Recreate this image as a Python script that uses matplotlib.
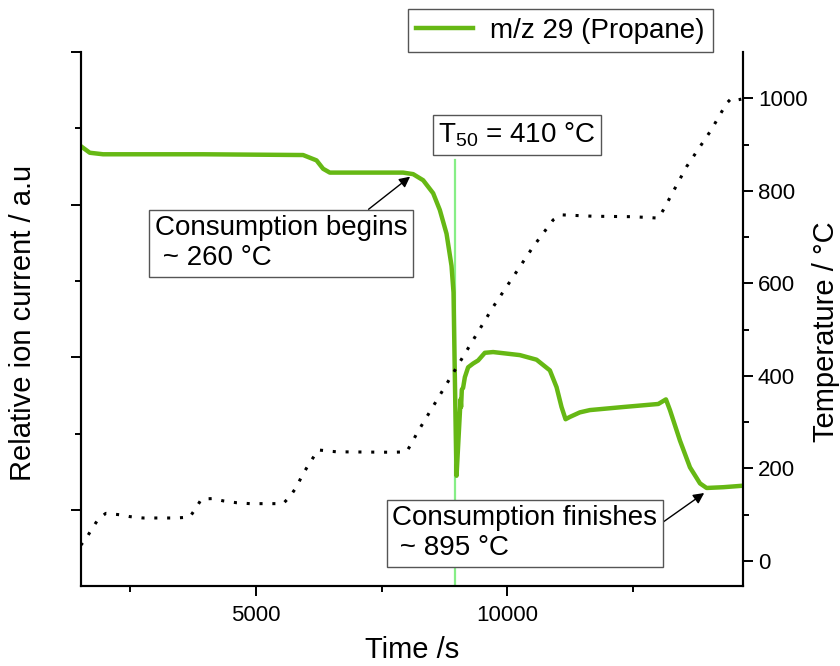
import matplotlib

matplotlib.use("Agg")
import matplotlib.pyplot as plt

# m/z 29 ion current (left axis, arbitrary units)
t_ms = [1535, 1700, 1964, 3952, 5940, 6207, 6338, 6471, 7266, 7928, 8127, 8326,
        8525, 8658, 8791, 8890, 8930, 8950, 8975, 8990, 9055, 9070, 9080, 9095,
        9120, 9155, 9220, 9320, 9419, 9552, 9717, 10248, 10580, 10845, 10978,
        11077, 11157, 11242, 11441, 11640, 12302, 13000, 13152, 13232, 13431,
        13630, 13829, 13960, 14290, 14690]
ion_ms = [5.76, 5.68, 5.66, 5.66, 5.65, 5.58, 5.47, 5.42, 5.42, 5.42, 5.40, 5.32,
          5.15, 4.93, 4.62, 4.20, 3.85, 3.00, 2.00, 1.45, 2.26, 2.45, 2.35, 2.58,
          2.60, 2.74, 2.87, 2.92, 2.96, 3.06, 3.07, 3.03, 2.97, 2.83, 2.61,
          2.35, 2.19, 2.22, 2.28, 2.31, 2.35, 2.39, 2.45, 2.31, 1.91,
          1.56, 1.35, 1.29, 1.30, 1.32]

# furnace temperature (right axis, °C)
t_temp = [1520, 1634, 1734, 1865, 2018, 2296, 2495, 2759, 3091, 3423, 3688, 3807,
          3920, 4151, 4350, 4616, 4881, 5543, 5676, 5809, 5908, 6020, 6173, 6239,
          6604, 7730, 7996, 8095, 8207, 9000, 9717, 10512, 10910, 11077, 11705,
          12500, 12997, 13097, 13562, 14049, 14357, 14457, 14556, 14650]
temp = [34, 50, 68, 90, 103, 100, 96, 93, 93, 93, 95, 114,
        134, 135, 130, 126, 124, 124, 139, 160, 182, 203, 229, 240,
        236, 235, 236, 254, 277, 420, 549, 679, 737, 748, 745,
        744, 741, 758, 852, 931, 989, 1000, 996, 998]

t50_time = 8960
GREEN = "#66b814"

plt.rcParams["font.family"] = ["Liberation Sans", "DejaVu Sans"]
plt.rcParams["mathtext.default"] = "regular"

fig = plt.figure(figsize=(8.4, 6.66), dpi=100)
ax = fig.add_axes([0.0961, 0.1194, 0.7888, 0.8026])
ax2 = ax.twinx()

ax.plot([t50_time, t50_time], [0, 5.585], color="#86ee86", lw=1.6, zorder=2)
ax.plot(t_ms, ion_ms, color=GREEN, lw=3.2, label="m/z 29 (Propane)", zorder=3,
        solid_joinstyle="round")
ax2.plot(t_temp, temp, color="black", lw=2.2, ls=(0, (1, 3.2)))

ax.set_xlim(1520, 14690)
ax.set_ylim(0, 7)
ax2.set_ylim(-55, 1100)
ax.set_xticks([5000, 10000])
ax.set_xticks([2500, 7500, 12500], minor=True)
ax.set_yticks([1, 3, 5, 7])
ax.set_yticks([2, 4, 6], minor=True)
ax.tick_params(labelleft=False)
ax2.set_yticks(range(0, 1001, 200))
ax2.set_yticks(range(100, 1001, 200), minor=True)

for a in (ax, ax2):
    a.spines["top"].set_visible(False)
    for s in ("left", "right", "bottom"):
        a.spines[s].set_linewidth(1.5)
    a.tick_params(which="major", length=7, width=1.4, direction="out", labelsize=16)
    a.tick_params(which="minor", length=4, width=1.4, direction="out")
ax.tick_params(axis="x", pad=6)

ax.set_xlabel("Time /s", fontsize=21)
ax.xaxis.set_label_coords(0.5, -0.093)
ax.set_ylabel("Relative ion current / a.u", fontsize=21)
ax.yaxis.set_label_coords(-0.066, 0.493)
ax2.set_ylabel("Temperature / °C", fontsize=21)
ax2.yaxis.set_label_coords(1.104, 0.476)

box = dict(boxstyle="square,pad=0.2", fc="white", ec="#555555", lw=1)
arrow = dict(arrowstyle="-|>", color="black", lw=1, mutation_scale=16,
             shrinkA=0, shrinkB=0)

ax.annotate("Consumption begins\n ~ 260 °C", xy=(8067, 5.367), xytext=(2997, 4.86),
            ha="left", va="top", fontsize=20, bbox=box,
            arrowprops=dict(arrow, relpos=(0.815, 1.0)), zorder=5)
ax.annotate("Consumption finishes\n ~ 895 °C", xy=(13912, 1.224), xytext=(7713, 1.061),
            ha="left", va="top", fontsize=20, bbox=box,
            arrowprops=dict(arrow, relpos=(1.0, 0.63)), zorder=5)
ax.text(8623, 6.10, "T$_{50}$ = 410 °C", ha="left", va="top", fontsize=20, bbox=box,
        zorder=5)

leg = ax.legend(loc="lower left", bbox_to_anchor=(0.4857, 0.9219),
                bbox_transform=fig.transFigure, borderaxespad=0, fontsize=20,
                fancybox=False, edgecolor="#555555", framealpha=1,
                handlelength=2.05, handletextpad=0.6, borderpad=0.3)
leg.get_frame().set_linewidth(1)

fig.savefig("out.png", dpi=100)
